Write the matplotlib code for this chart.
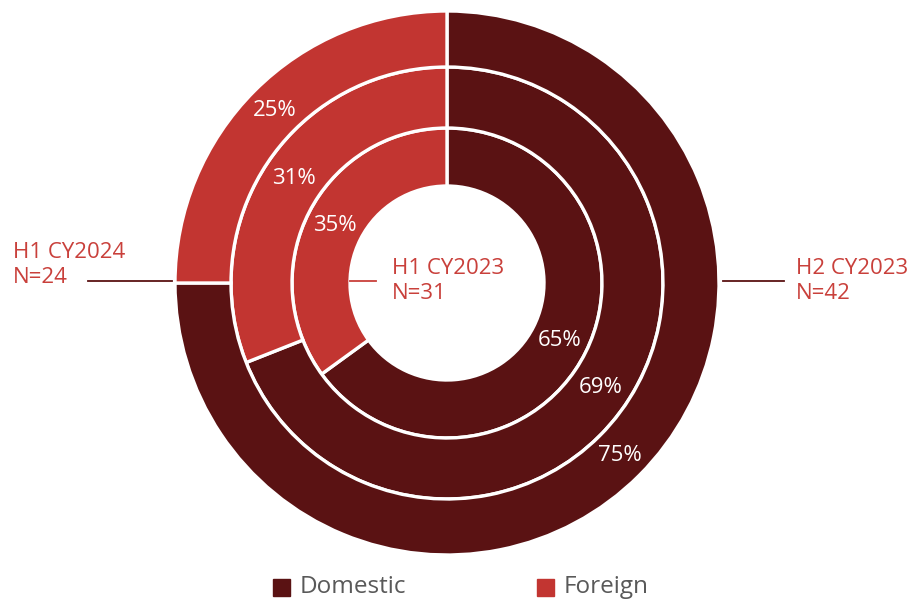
import matplotlib
matplotlib.use("Agg")
import matplotlib.pyplot as plt
from matplotlib.patches import Rectangle

# Share of domestic vs foreign, per period (inner ring -> outer ring)
periods = ["H1 CY2023", "H2 CY2023", "H1 CY2024"]
counts = [31, 42, 24]
domestic = [65, 69, 75]
foreign = [35, 31, 25]
categories = ["Domestic", "Foreign"]

DOM_COLOR = "#5a1213"
FOR_COLOR = "#c23531"
TEXT_RED = "#c9403b"

plt.rcParams["font.family"] = ["Open Sans", "DejaVu Sans"]

W, H = 924, 600
fig = plt.figure(figsize=(W / 100, H / 100), dpi=100)
ax = fig.add_axes([0, 0, 1, 1])
cx, cy = 447, 317  # ring centre in pixel units (from bottom-left)

# ring geometry: (outer radius, width) for inner, middle, outer rings
rings = [(155, 58), (216, 61), (272, 56)]

for (r, w), d, f in zip(rings, domestic, foreign):
    ax.pie(
        [d, f],
        radius=r,
        startangle=90,
        counterclock=False,
        colors=[DOM_COLOR, FOR_COLOR],
        wedgeprops=dict(width=w, edgecolor="white", linewidth=2.4),
        labels=[f"{d}%", f"{f}%"],
        labeldistance=(r - w / 2) / r,
        textprops=dict(color="white", fontsize=16, ha="center", va="center"),
        frame=False,
    )
ax.set_xlim(-cx, W - cx)
ax.set_ylim(-cy, H - cy)
ax.set_aspect("equal")
ax.axis("off")

def px(x, y):
    """convert image pixel coords (from top-left) to data coords"""
    return x - cx, (H - y) - cy

label_kw = dict(color=TEXT_RED, fontsize=16, ha="left", va="center", linespacing=1.2)

# centre label for the innermost ring
ax.plot(*zip(px(350, 281), px(376, 281)), color=TEXT_RED, lw=1.3)
ax.text(*px(392, 281), f"{periods[0]}\nN={counts[0]}", **label_kw)

# right label
ax.plot(*zip(px(723, 281), px(784, 281)), color=DOM_COLOR, lw=1.3)
ax.text(*px(796, 281), f"{periods[1]}\nN={counts[1]}", **label_kw)

# left label
ax.plot(*zip(px(88, 281), px(172, 281)), color=DOM_COLOR, lw=1.3)
ax.text(*px(13, 265), f"{periods[2]}\nN={counts[2]}", **label_kw)

# legend
for (sx, tx), name, col in zip([(273, 300), (537, 564)], categories, [DOM_COLOR, FOR_COLOR]):
    ax.add_patch(Rectangle(px(sx, 596), 17, 17, color=col, clip_on=False))
    ax.text(*px(tx, 587), name, color="#595959", fontsize=17.5, ha="left", va="center")

fig.savefig("out.png", dpi=100)
